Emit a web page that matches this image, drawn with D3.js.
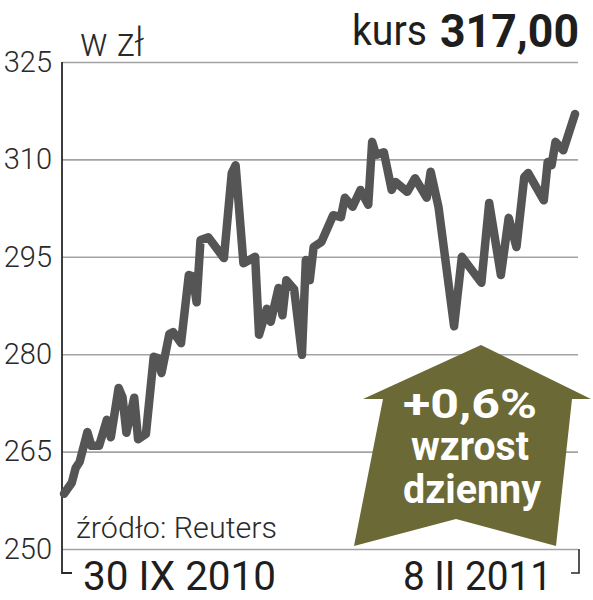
<!DOCTYPE html>
<html>
<head>
<meta charset="utf-8">
<script src="https://cdn.jsdelivr.net/npm/d3@7"></script>
<style>
  html, body { margin: 0; padding: 0; background: #fff; }
  svg { display: block; }
</style>
</head>
<body>
<script>
// ---- data ----
const startDate = new Date(2010, 8, 30);
const endDate = new Date(2011, 1, 8);
const dayOffsets = [0,2,3,4,6,7,9,11,12,14,15,16,18,19,21,23,24,25,27,28,30,32,33,34,35,37,41,43,44,46,49,50,52,53,55,56,57,59,61,62,63,64,66,69,71,72,74,76,78,79,80,82,84,85,88,90,93,94,96,100,102,104,107,109,112,114,116,118,119,123,124,125,126,128,131];
const prices = [258.5,260.2,262.5,263.4,268.0,265.9,265.9,269.9,267.2,274.8,273.4,267.9,273.3,266.9,267.7,279.6,279.4,277.1,283.1,283.4,281.7,292.2,292.0,288.0,297.6,298.0,294.8,307.9,309.1,294.0,295.0,283.0,287.0,285.0,290.2,286.0,291.4,290.0,279.9,294.5,291.4,296.5,297.3,301.4,301.1,304.1,302.7,305.3,303.0,312.7,310.7,311.1,305.3,306.5,305.0,307.1,304.1,308.1,302.7,284.3,295.0,293.4,291.0,303.3,292.2,301.0,296.5,307.3,307.9,303.7,309.6,309.1,312.7,311.4,317.0];
const yTicks = [250, 265, 280, 295, 310, 325];
const unitLabel = "w zł";
const sourceLabel = "źródło: Reuters";
const startLabel = "30 IX 2010";
const endLabel = "8 II 2011";
const priceWord = "kurs";
const priceLabel = "317,00";
const changeLines = ["+0,6%", "wzrost", "dzienny"];

// ---- layout ----
const W = 593, H = 600;
const svg = d3.select("body").append("svg").attr("width", W).attr("height", H);

const x = d3.scaleTime().domain([startDate, endDate]).range([64, 575]);
const y = d3.scaleLinear().domain([250, 325]).range([549, 62]);
const gridLeft = 62, gridRight = 578;

const data = dayOffsets.map((d, i) => ({ date: d3.timeDay.offset(startDate, d), v: prices[i] }));

// y axis with gridlines
const yAxis = d3.axisLeft(y).tickValues(yTicks).tickSizeInner(-(gridRight - gridLeft)).tickSizeOuter(0).tickPadding(10).tickFormat(d3.format("d"));
const gy = svg.append("g").attr("transform", `translate(${gridLeft},0)`).call(yAxis);
gy.select(".domain").remove();
gy.selectAll(".tick line").attr("stroke", "#a3a3a3").attr("stroke-width", 1.6);
gy.selectAll(".tick text")
  .attr("fill", "#2a2a2a")
  .style("font-family", "Roboto, 'Liberation Sans', sans-serif")
  .style("font-weight", 300)
  .style("font-size", "29px");

// left axis bracket
const bottomY = y(250) + 24;
svg.append("path")
  .attr("d", `M${gridLeft},${y(325)}V${bottomY}H${gridLeft + 10}`)
  .attr("fill", "none").attr("stroke", "#2a2a2a").attr("stroke-width", 1.8);
// right bracket
svg.append("path")
  .attr("d", `M${gridRight + 1},${y(250)}V${bottomY}H${gridRight - 7}`)
  .attr("fill", "none").attr("stroke", "#2a2a2a").attr("stroke-width", 1.6);

// price line
const line = d3.line().x(d => x(d.date)).y(d => y(d.v));
svg.append("path")
  .datum(data)
  .attr("d", line)
  .attr("fill", "none")
  .attr("stroke", "#555555")
  .attr("stroke-width", 8.5)
  .attr("stroke-linejoin", "round")
  .attr("stroke-linecap", "round");

// arrow badge
const arrow = [[481,345],[591,399],[572,399],[556,546],[456,519],[354,546],[383,399],[363,399]];
svg.append("polygon")
  .attr("points", arrow.map(p => p.join(",")).join(" "))
  .attr("fill", "#6b6a36");

const boldFont = "Roboto, 'Liberation Sans', sans-serif";
const badge = svg.append("g").attr("fill", "#ffffff").style("font-family", boldFont).style("font-weight", 700);
const badgeSpecs = [
  { t: changeLines[0], x: 470, y: 418, size: 41, len: 134 },
  { t: changeLines[1], x: 470, y: 460, size: 40, len: 118 },
  { t: changeLines[2], x: 472, y: 503, size: 40, len: 138 }
];
badgeSpecs.forEach(s => {
  badge.append("text").text(s.t)
    .attr("x", s.x).attr("y", s.y)
    .attr("text-anchor", "middle")
    .attr("textLength", s.len).attr("lengthAdjust", "spacingAndGlyphs")
    .style("font-size", s.size + "px");
});

// header texts
svg.append("text").text(unitLabel)
  .attr("x", 80).attr("y", 56)
  .attr("textLength", 64).attr("lengthAdjust", "spacingAndGlyphs")
  .attr("fill", "#2a2a2a")
  .style("font-family", "Roboto, sans-serif").style("font-weight", 300).style("font-size", "40px");

svg.append("text").text(priceWord)
  .attr("x", 352).attr("y", 45)
  .attr("textLength", 75).attr("lengthAdjust", "spacingAndGlyphs")
  .attr("fill", "#1e1e1e")
  .style("font-family", "Roboto, sans-serif").style("font-weight", 400).style("font-size", "42px");

svg.append("text").text(priceLabel)
  .attr("x", 440).attr("y", 47)
  .attr("textLength", 139).attr("lengthAdjust", "spacingAndGlyphs")
  .attr("fill", "#1e1e1e")
  .style("font-family", "Roboto, sans-serif").style("font-weight", 700).style("font-size", "47px");

// source
svg.append("text").text(sourceLabel)
  .attr("x", 76).attr("y", 538)
  .attr("textLength", 201).attr("lengthAdjust", "spacingAndGlyphs")
  .attr("fill", "#2a2a2a")
  .style("font-family", "Roboto, sans-serif").style("font-weight", 300).style("font-size", "30px");

// date labels
svg.append("text").text(startLabel)
  .attr("x", 83).attr("y", 590)
  .attr("textLength", 193).attr("lengthAdjust", "spacingAndGlyphs")
  .attr("fill", "#1e1e1e")
  .style("font-family", "Roboto, sans-serif").style("font-weight", 400).style("font-size", "40px");

svg.append("text").text(endLabel)
  .attr("x", 403).attr("y", 590)
  .attr("textLength", 149).attr("lengthAdjust", "spacingAndGlyphs")
  .attr("fill", "#1e1e1e")
  .style("font-family", "Roboto, sans-serif").style("font-weight", 400).style("font-size", "40px");
</script>
</body>
</html>
